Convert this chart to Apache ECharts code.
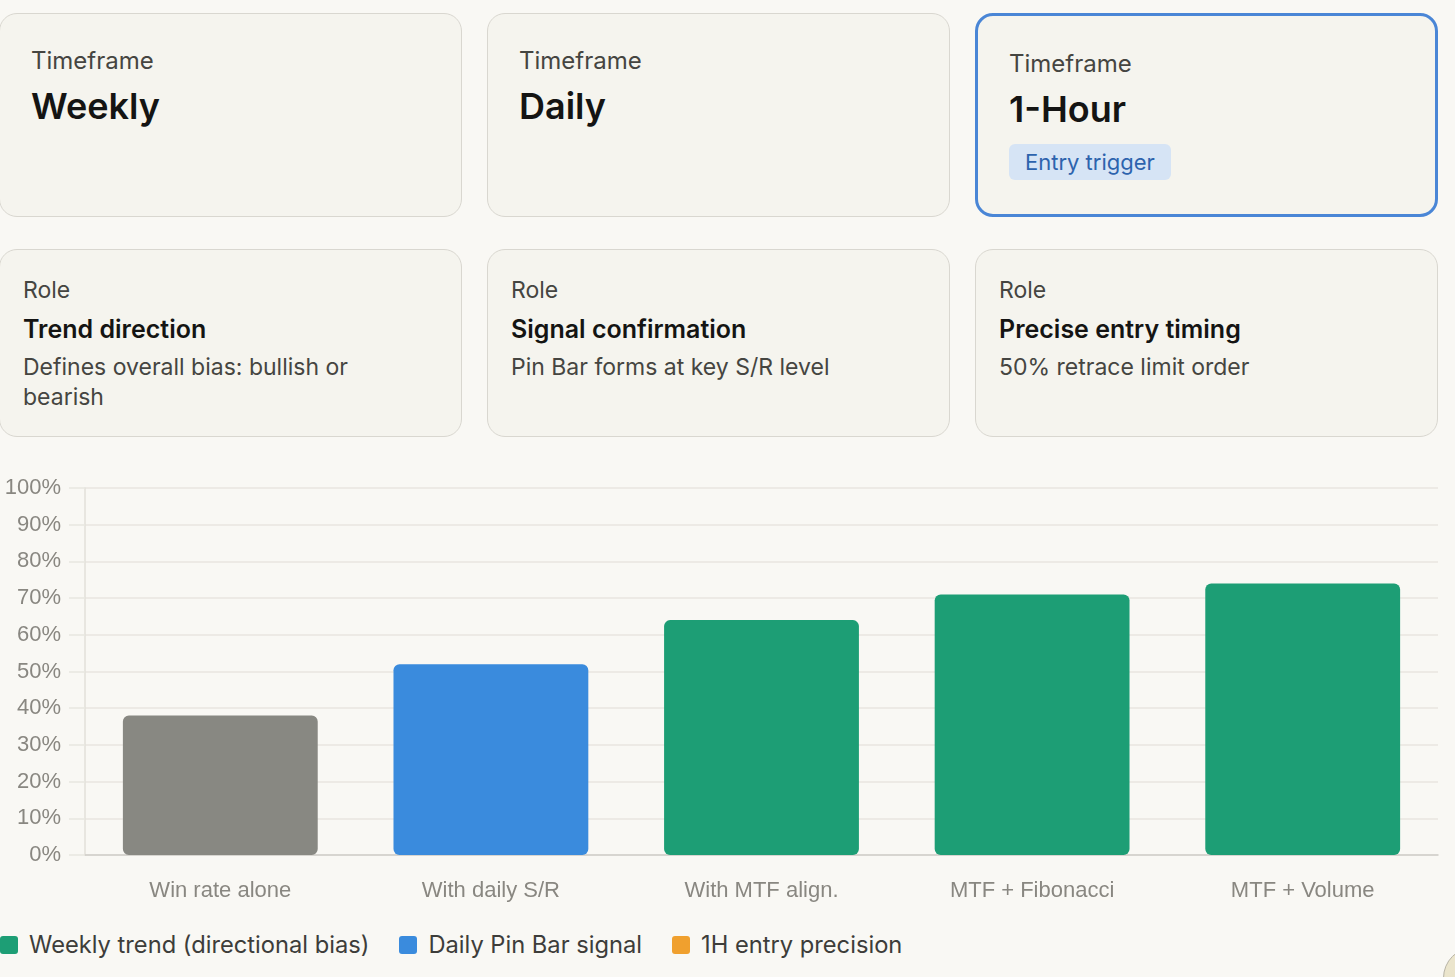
<!DOCTYPE html>
<html>
<head>
<meta charset="utf-8">
<title>Timeframe win rate</title>
<script src="https://cdn.jsdelivr.net/npm/echarts@6.0.0/dist/echarts.min.js"></script>
<style>
	html,body{margin:0;padding:0;background:#f9f8f4;width:1455px;height:977px;overflow:hidden;font-family:Inter,"Noto Sans",sans-serif;}
	.card{position:absolute;box-sizing:border-box;background:#f5f4ee;border:1px solid #d9d7d0;border-radius:18px;}
	.card.on{border:3px solid #4a86d6;}
	.tf{padding:32px 31px 0 31px;}
	.tf.on{padding-top:33px;}
	.role{padding:25px 23px 0 23px;}
	.lbl{font-size:24px;line-height:30px;color:#454541;}
	.role .lbl{font-size:23px;}
	.big{font-size:36px;line-height:44px;font-weight:600;color:#141413;margin-top:8px;}
	.badge{display:inline-block;margin-top:13px;background:#d6e4f5;color:#2d63ad;font-size:22px;line-height:36px;padding:0 16px;border-radius:6px;}
	.ttl{font-size:25px;line-height:32px;font-weight:600;color:#141413;margin-top:8px;}
	.desc{font-size:23px;line-height:30px;color:#454541;margin-top:7px;}
	#chart{position:absolute;left:0;top:460px;width:1455px;height:460px;}
	#legend{position:absolute;left:0;top:930px;display:flex;align-items:center;font-size:23.7px;color:#3d3d3a;}
	#legend .it{display:flex;align-items:center;margin-right:30px;}
	#legend .sw{width:18px;height:18px;border-radius:3px;margin-right:11px;}
	.dot{position:absolute;left:1443px;top:947px;width:60px;height:60px;border-radius:50%;background:#ebe5cc;border:1px solid #b8b4a6;}
</style>
</head>
<body>
<div class="card tf" style="left:-1px;top:13px;width:463px;height:204px;">
	<div class="lbl">Timeframe</div>
	<div class="big">Weekly</div>
</div>
<div class="card tf" style="left:487px;top:13px;width:463px;height:204px;">
	<div class="lbl">Timeframe</div>
	<div class="big">Daily</div>
</div>
<div class="card tf on" style="left:975px;top:13px;width:463px;height:204px;">
	<div class="lbl">Timeframe</div>
	<div class="big">1-Hour</div>
	<div class="badge">Entry trigger</div>
</div>
<div class="card role" style="left:-1px;top:249px;width:463px;height:188px;">
	<div class="lbl">Role</div>
	<div class="ttl">Trend direction</div>
	<div class="desc">Defines overall bias: bullish or<br>bearish</div>
</div>
<div class="card role" style="left:487px;top:249px;width:463px;height:188px;">
	<div class="lbl">Role</div>
	<div class="ttl">Signal confirmation</div>
	<div class="desc">Pin Bar forms at key S/R level</div>
</div>
<div class="card role" style="left:975px;top:249px;width:463px;height:188px;">
	<div class="lbl">Role</div>
	<div class="ttl">Precise entry timing</div>
	<div class="desc">50% retrace limit order</div>
</div>

<div id="chart"></div>
<div id="legend"></div>
<div class="dot"></div>

<script>
// chart data
var categories = ['Win rate alone', 'With daily S/R', 'With MTF align.', 'MTF + Fibonacci', 'MTF + Volume'];
var winRates = [38, 52, 64, 71, 74];
var barColors = ['#888882', '#3a8bdd', '#1d9e75', '#1d9e75', '#1d9e75'];
var yTicks = [0, 10, 20, 30, 40, 50, 60, 70, 80, 90, 100];

var legendNames = ['Weekly trend (directional bias)', 'Daily Pin Bar signal', '1H entry precision'];
var legendColors = ['#1d9e75', '#3a8bdd', '#f0a02e'];

/**
 * 柱状图
 */
function winRateChart(showId){
	var chart = echarts.init(document.getElementById(showId));

	var dataArr = new Array();
	for(var i=0;i<winRates.length;i++){
		dataArr.push({value: winRates[i], itemStyle: {color: barColors[i]}});
	}

	var option = {
		animation: false,
		grid: {left: 85, right: 17, top: 28, bottom: 65},
		xAxis: {
			type: 'category',
			data: categories,
			axisTick: {show: false},
			axisLine: {lineStyle: {color: '#cfcdc7', width: 1.5}},
			axisLabel: {
				color: '#898781',
				fontSize: 22,
				fontFamily: '"Liberation Sans", Arial, sans-serif',
				margin: 25
			}
		},
		yAxis: {
			type: 'value',
			min: yTicks[0],
			max: yTicks[yTicks.length - 1],
			interval: yTicks[1] - yTicks[0],
			axisLine: {show: true, lineStyle: {color: '#e2e0da', width: 1.5}},
			axisTick: {show: true, length: 16, lineStyle: {color: '#e8e6e0', width: 1.5}},
			splitLine: {lineStyle: {color: '#e8e6e0', width: 1.5}},
			axisLabel: {
				formatter: '{value}%',
				color: '#898781',
				fontSize: 22,
				fontFamily: '"Liberation Sans", Arial, sans-serif',
				margin: 24
			}
		},
		series: [{
			type: 'bar',
			data: dataArr,
			barCategoryGap: '28%',
			itemStyle: {borderRadius: 6}
		}]
	};
	chart.setOption(option);
}

function drawLegend(showId){
	var box = document.getElementById(showId);
	for(var i=0;i<legendNames.length;i++){
		var it = document.createElement('div');
		it.className = 'it';
		it.innerHTML = '<span class="sw" style="background:' + legendColors[i] + '"></span>' + legendNames[i];
		box.appendChild(it);
	}
}

winRateChart('chart');
drawLegend('legend');
</script>
</body>
</html>
